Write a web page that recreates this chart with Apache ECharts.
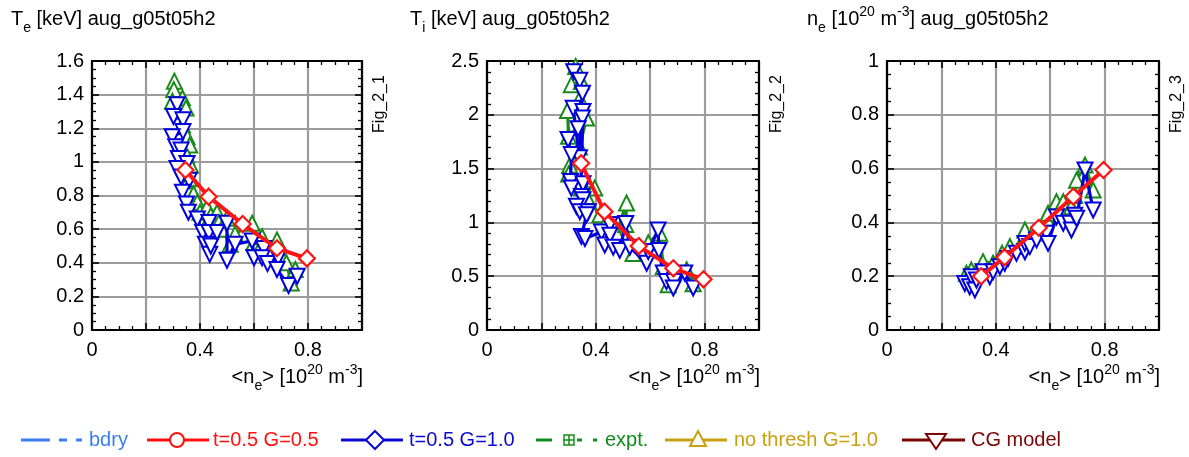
<!DOCTYPE html>
<html>
<head>
<meta charset="utf-8">
<script src="https://cdn.jsdelivr.net/npm/echarts@6/dist/echarts.min.js"></script>
<style>
  html, body { margin: 0; padding: 0; background: #fff; }
  #chart { width: 1189px; height: 457px; }
</style>
</head>
<body>
<div id="chart"></div>
<script>
// ---------------- DATA ----------------
const xTickLabels = ['0', '0.4', '0.8'];
const teTickLabels = ['0', '0.2', '0.4', '0.6', '0.8', '1', '1.2', '1.4', '1.6'];
const tiTickLabels = ['0', '0.5', '1', '1.5', '2', '2.5'];
const neTickLabels = ['0', '0.2', '0.4', '0.6', '0.8', '1'];

// red diamond series: shared x, per-panel y
const redX = [0.346, 0.432, 0.558, 0.685, 0.796];
const teRedY = [0.952, 0.793, 0.630, 0.486, 0.426];
const tiRedY = [1.549, 1.100, 0.780, 0.573, 0.471];
const neRedY = [0.200, 0.270, 0.380, 0.496, 0.595];

// Panel 1: Te
const teGreen = [[0.305,1.48],[0.303,1.43],[0.298,1.36],[0.335,1.38],[0.348,1.32],[0.335,1.22],[0.352,1.15],[0.362,1.10],[0.350,1.04],[0.365,0.98],[0.360,0.90],[0.376,0.81],[0.390,0.76],[0.400,0.70],[0.426,0.73],[0.440,0.68],[0.463,0.70],[0.470,0.64],[0.500,0.665],[0.480,0.60],[0.512,0.51],[0.530,0.57],[0.593,0.635],[0.600,0.52],[0.630,0.555],[0.620,0.48],[0.660,0.46],[0.685,0.535],[0.700,0.45],[0.720,0.40],[0.738,0.28],[0.753,0.36]];
const teBlue = [[0.315,1.34],[0.302,1.27],[0.337,1.25],[0.337,1.18],[0.297,1.15],[0.310,1.09],[0.330,1.07],[0.320,1.02],[0.352,0.99],[0.315,0.96],[0.330,0.91],[0.360,0.89],[0.335,0.82],[0.350,0.75],[0.357,0.70],[0.390,0.66],[0.410,0.58],[0.433,0.64],[0.433,0.58],[0.420,0.51],[0.436,0.45],[0.440,0.50],[0.463,0.58],[0.500,0.635],[0.500,0.415],[0.530,0.51],[0.593,0.53],[0.600,0.43],[0.636,0.485],[0.630,0.43],[0.650,0.395],[0.690,0.43],[0.685,0.36],[0.728,0.265],[0.760,0.32]];

// Panel 2: Ti
const tiGreen = [[0.326,2.45],[0.310,2.28],[0.347,2.31],[0.341,2.15],[0.296,2.04],[0.300,1.80],[0.366,1.97],[0.340,1.70],[0.304,1.53],[0.300,1.45],[0.347,1.32],[0.396,1.32],[0.366,1.24],[0.415,1.07],[0.440,1.01],[0.476,0.90],[0.513,1.18],[0.510,0.98],[0.537,0.71],[0.593,0.81],[0.635,0.90],[0.648,0.59],[0.666,0.42],[0.734,0.56],[0.758,0.43]];
const tiBlue = [[0.319,2.40],[0.341,2.32],[0.351,2.20],[0.340,1.60],[0.317,2.06],[0.353,2.03],[0.345,1.30],[0.351,1.97],[0.335,1.87],[0.298,1.77],[0.310,1.63],[0.307,1.38],[0.310,1.32],[0.353,1.36],[0.347,1.24],[0.353,1.21],[0.329,1.15],[0.341,1.10],[0.372,1.10],[0.366,1.07],[0.347,0.87],[0.360,0.85],[0.421,0.91],[0.452,0.98],[0.433,0.79],[0.452,0.88],[0.464,0.77],[0.488,0.74],[0.510,0.99],[0.525,0.77],[0.587,0.62],[0.593,0.73],[0.629,0.93],[0.632,0.74],[0.648,0.53],[0.660,0.45],[0.687,0.45],[0.685,0.39],[0.727,0.53],[0.758,0.39]];

// Panel 3: ne
const neGreen = [[0.292,0.211],[0.310,0.223],[0.353,0.254],[0.390,0.248],[0.423,0.285],[0.452,0.310],[0.488,0.310],[0.507,0.372],[0.537,0.360],[0.586,0.415],[0.592,0.434],[0.623,0.477],[0.648,0.477],[0.678,0.458],[0.690,0.500],[0.697,0.557],[0.728,0.613],[0.758,0.520]];
const neBlue = [[0.286,0.173],[0.304,0.161],[0.310,0.198],[0.323,0.149],[0.329,0.186],[0.353,0.217],[0.378,0.198],[0.390,0.217],[0.415,0.235],[0.433,0.248],[0.445,0.266],[0.476,0.285],[0.507,0.291],[0.507,0.322],[0.525,0.310],[0.550,0.335],[0.586,0.360],[0.592,0.322],[0.623,0.420],[0.648,0.397],[0.672,0.397],[0.678,0.372],[0.690,0.427],[0.697,0.415],[0.728,0.595],[0.758,0.446]];

const legendNames = ['bdry', 't=0.5 G=0.5', 't=0.5 G=1.0', 'expt.', 'no thresh G=1.0', 'CG model'];
const figLabels = ['Fig_2_1', 'Fig_2_2', 'Fig_2_3'];

// ---------------- STYLE / LAYOUT ----------------
const FONT = 'Liberation Sans, Arial, Helvetica, sans-serif';
const GREEN = '#1a8a1a', BLUE = '#0000dd', RED = '#ff1414';
const LEG = { bdry: '#3a7ff2', red: '#ff1010', blue: '#0a0ad0', green: '#138a1c', gold: '#c8a010', dred: '#7a0606' };

const panels = [
  { left: 92,  width: 270, ymax: 1.6, yint: 0.2, ysplit: 4, yLabels: teTickLabels, green: teGreen, blue: teBlue, redY: teRedY },
  { left: 487, width: 272, ymax: 2.5, yint: 0.5, ysplit: 5, yLabels: tiTickLabels, green: tiGreen, blue: tiBlue, redY: tiRedY },
  { left: 887, width: 272, ymax: 1.0, yint: 0.2, ysplit: 4, yLabels: neTickLabels, green: neGreen, blue: neBlue, redY: neRedY }
];
const TOP = 61, HEIGHT = 269;

function fmt(v) { return String(Math.round(v * 1000) / 1000); }

const grid = [], xAxis = [], yAxis = [], series = [];
const tickBase = { show: true, inside: true, length: 7, lineStyle: { color: '#000', width: 1.6 } };
const minorBase = (n) => ({ show: true, splitNumber: n, length: 4, lineStyle: { color: '#000', width: 1.3 } });
const frameLine = { show: true, onZero: false, lineStyle: { color: '#000', width: 2.2 } };
const gridLine = { show: true, lineStyle: { color: '#9c9c9c', width: 2.2 } };

panels.forEach((p, i) => {
  grid.push({ left: p.left, top: TOP, width: p.width, height: HEIGHT, containLabel: false });
  xAxis.push({
    gridIndex: i, type: 'value', min: 0, max: 1, interval: 0.2, position: 'bottom',
    axisLine: frameLine, axisTick: tickBase, minorTick: minorBase(4),
    axisLabel: { fontSize: 20, fontFamily: FONT, color: '#000', margin: 10,
      formatter: v => xTickLabels.includes(fmt(v)) ? fmt(v) : '' },
    splitLine: gridLine
  });
  xAxis.push({
    gridIndex: i, type: 'value', min: 0, max: 1, interval: 0.2, position: 'top',
    axisLine: frameLine, axisTick: tickBase, minorTick: minorBase(4),
    axisLabel: { show: false }, splitLine: { show: false }
  });
  yAxis.push({
    gridIndex: i, type: 'value', min: 0, max: p.ymax, interval: p.yint, position: 'left',
    axisLine: frameLine, axisTick: tickBase, minorTick: minorBase(p.ysplit),
    axisLabel: { fontSize: 20, fontFamily: FONT, color: '#000', margin: 8,
      formatter: v => p.yLabels.includes(fmt(v)) ? fmt(v) : '' },
    splitLine: gridLine
  });
  yAxis.push({
    gridIndex: i, type: 'value', min: 0, max: p.ymax, interval: p.yint, position: 'right',
    axisLine: frameLine, axisTick: tickBase, minorTick: minorBase(p.ysplit),
    axisLabel: { show: false }, splitLine: { show: false }
  });

  series.push({
    type: 'line', xAxisIndex: 2 * i, yAxisIndex: 2 * i, data: p.green,
    symbol: 'triangle', symbolSize: 15, showSymbol: true, z: 2,
    lineStyle: { color: GREEN, width: 3.2 },
    itemStyle: { color: '#fff', borderColor: GREEN, borderWidth: 2 }
  });
  series.push({
    type: 'line', xAxisIndex: 2 * i, yAxisIndex: 2 * i, data: p.blue,
    symbol: 'triangle', symbolRotate: 180, symbolSize: 15, showSymbol: true, z: 3,
    lineStyle: { color: BLUE, width: 3.2 },
    itemStyle: { color: '#fff', borderColor: BLUE, borderWidth: 2 }
  });
  series.push({
    type: 'line', xAxisIndex: 2 * i, yAxisIndex: 2 * i,
    data: redX.map((x, k) => [x, p.redY[k]]),
    symbol: 'diamond', symbolSize: 16, showSymbol: true, z: 4,
    lineStyle: { color: RED, width: 4 },
    itemStyle: { color: '#fff', borderColor: RED, borderWidth: 2.2 }
  });
});

// ---------------- TEXT (rich) ----------------
const rich = {
  m: { fontSize: 20, lineHeight: 24, fontFamily: FONT, color: '#000' },
  sub: { fontSize: 14, lineHeight: 14, padding: [18, 0, 0, 0], fontFamily: FONT, color: '#000' },
  sup: { fontSize: 14, lineHeight: 14, padding: [0, 0, 14, 0], fontFamily: FONT, color: '#000' }
};
function rtext(x, y, text, align) {
  return { type: 'text', x: x, y: y, z: 100, silent: true,
    style: { text: text, rich: rich, align: align, textAlign: align,
      verticalAlign: 'middle', textVerticalAlign: 'middle', fontSize: 20, fontFamily: FONT, fill: '#000' } };
}
const xName = '{m|<n}{sub|e}{m|> [10}{sup|20}{m| m}{sup|-3}{m|]}';
const graphics = [
  rtext(11, 19, '{m|T}{sub|e}{m| [keV] aug_g05t05h2}', 'left'),
  rtext(410, 19, '{m|T}{sub|i}{m| [keV] aug_g05t05h2}', 'left'),
  rtext(807, 19, '{m|n}{sub|e}{m| [10}{sup|20}{m| m}{sup|-3}{m|] aug_g05t05h2}', 'left')
];
panels.forEach((p, i) => {
  graphics.push(rtext(p.left + p.width + 1, 377, xName, 'right'));
  graphics.push({ type: 'text', x: p.left + p.width + 18, y: 104, rotation: Math.PI / 2, z: 100, silent: true,
    style: { text: figLabels[i], align: 'center', textAlign: 'center', verticalAlign: 'middle', textVerticalAlign: 'middle',
      fontSize: 16, fontFamily: FONT, fill: '#000' } });
});

// ---------------- LEGEND (drawn) ----------------
const LY = 440;
function seg(x1, x2, color, w) { return { type: 'line', z: 100, silent: true, shape: { x1: x1, y1: LY, x2: x2, y2: LY }, style: { stroke: color, lineWidth: w || 3 } }; }
function ltext(x, text, color) { return { type: 'text', x: x, y: LY, z: 100, silent: true,
  style: { text: text, align: 'left', textAlign: 'left', verticalAlign: 'middle', textVerticalAlign: 'middle', fontSize: 20, fontFamily: FONT, fill: color } }; }
graphics.push(seg(21, 50, LEG.bdry), seg(59, 67, LEG.bdry), seg(76, 82, LEG.bdry), ltext(89, legendNames[0], LEG.bdry));
graphics.push(seg(147, 209, LEG.red), { type: 'circle', z: 101, silent: true, shape: { cx: 177, cy: LY, r: 7 }, style: { fill: '#fff', stroke: LEG.red, lineWidth: 2 } },
  ltext(213, legendNames[1], LEG.red));
graphics.push(seg(341, 403, LEG.blue), { type: 'polygon', z: 101, silent: true, shape: { points: [[375, LY - 9], [384, LY], [375, LY + 9], [366, LY]] }, style: { fill: '#fff', stroke: LEG.blue, lineWidth: 2 } },
  ltext(409, legendNames[2], LEG.blue));
graphics.push(seg(536, 552, LEG.green), { type: 'rect', z: 101, silent: true, shape: { x: 564, y: LY - 5, width: 10, height: 10 }, style: { fill: '#fff', stroke: LEG.green, lineWidth: 1.5 } },
  { type: 'line', z: 102, silent: true, shape: { x1: 569, y1: LY - 5, x2: 569, y2: LY + 5 }, style: { stroke: LEG.green, lineWidth: 1.5 } },
  { type: 'line', z: 102, silent: true, shape: { x1: 564, y1: LY, x2: 574, y2: LY }, style: { stroke: LEG.green, lineWidth: 1.5 } },
  seg(577, 582, LEG.green), seg(593, 597, LEG.green), ltext(605, legendNames[3], LEG.green));
graphics.push(seg(665, 727, LEG.gold), { type: 'polygon', z: 101, silent: true, shape: { points: [[698, LY - 9], [706, LY + 6], [690, LY + 6]] }, style: { fill: '#fff', stroke: LEG.gold, lineWidth: 2 } },
  ltext(734, legendNames[4], LEG.gold));
graphics.push(seg(902, 965, LEG.dred), { type: 'polygon', z: 101, silent: true, shape: { points: [[926, LY - 6], [946, LY - 6], [936, LY + 9]] }, style: { fill: '#fff', stroke: LEG.dred, lineWidth: 2 } },
  ltext(971, legendNames[5], LEG.dred));

const chart = echarts.init(document.getElementById('chart'), null, { renderer: 'canvas' });
chart.setOption({
  backgroundColor: '#fff',
  animation: false,
  grid: grid, xAxis: xAxis, yAxis: yAxis, series: series,
  graphic: graphics
});
</script>
</body>
</html>
